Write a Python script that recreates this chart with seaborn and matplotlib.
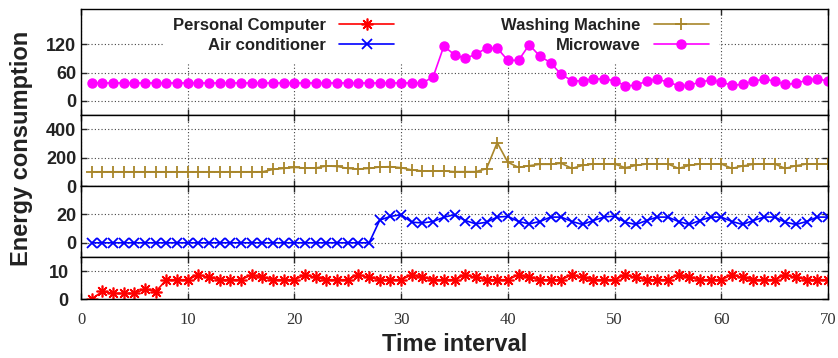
import matplotlib
matplotlib.use("Agg")
import matplotlib.pyplot as plt
import seaborn as sns
import pandas as pd

# Data
time_interval = list(range(1, 71))

microwave = [38, 38, 38, 38, 38, 38, 38, 38, 38, 38,
             38, 38, 38, 38, 38, 38, 38, 38, 38, 38,
             38, 38, 38, 38, 38, 38, 38, 38, 38, 38,
             38, 38, 51, 116, 98, 90, 99, 112, 112, 86,
             86, 119, 95, 81, 56, 43, 42, 47, 46, 43,
             32, 33, 42, 46, 40, 32, 33, 40, 44, 40,
             33, 35, 42, 46, 42, 35, 37, 44, 47, 42]

washing_machine = [100, 100, 100, 100, 100, 100, 100, 100, 100, 100,
                   100, 100, 100, 100, 100, 100, 100, 117, 124, 131,
                   127, 127, 141, 138, 124, 120, 124, 134, 136, 129,
                   113, 106, 106, 106, 101, 101, 101, 122, 305, 167,
                   131, 143, 153, 153, 160, 124, 145, 155, 155, 155,
                   129, 145, 155, 155, 155, 124, 145, 155, 155, 155,
                   124, 141, 153, 155, 155, 124, 143, 155, 155, 155]

air_conditioner = [0, 0, 0, 0, 0, 0, 0, 0, 0, 0,
                   0, 0, 0, 0, 0, 0, 0, 0, 0, 0,
                   0, 0, 0, 0, 0, 0, 0, 16, 18.6, 19.8,
                   14.5, 14, 15, 18, 19.8, 15.7, 13.3, 14.5, 18.1, 18.6,
                   15, 13.3, 15, 18.1, 18.1, 15, 12.9, 15.7, 18.1, 18.8,
                   14.5, 12.9, 15.7, 18.1, 18.1, 15, 12.9, 15.7, 18.1, 18.1,
                   15, 12.9, 15.7, 18.1, 18.1, 14.5, 12.9, 15, 18.1, 18.1]

personal_computer = [0, 2.7, 2, 2, 2, 3.6, 2.6, 6.9, 6.9, 6.9,
                     8.6, 7.7, 6.9, 6.9, 6.9, 8.6, 7.7, 6.9, 6.9, 6.9,
                     8.6, 7.7, 6.9, 6.9, 6.9, 8.6, 7.7, 6.9, 6.9, 6.9,
                     8.6, 7.7, 6.9, 6.9, 6.9, 8.6, 7.7, 6.9, 6.9, 6.9,
                     8.6, 7.7, 6.9, 6.9, 6.9, 8.6, 7.7, 6.9, 6.9, 6.9,
                     8.6, 7.7, 6.9, 6.9, 6.9, 8.6, 7.7, 6.9, 6.9, 6.9,
                     8.6, 7.7, 6.9, 6.9, 6.9, 8.6, 7.7, 6.9, 6.9, 6.9]

x_ticks = [0, 10, 20, 30, 40, 50, 60, 70]
panel_yticks = [[0, 60, 120], [0, 200, 400], [0, 20], [0, 10]]
panel_ylims = [(-30, 195), (0, 500), (-10, 40), (0, 15)]

df = pd.DataFrame({
    'time': time_interval,
    'Microwave': microwave,
    'Washing Machine': washing_machine,
    'Air conditioner': air_conditioner,
    'Personal Computer': personal_computer,
})

sns.set_style("white")
plt.rcParams['font.family'] = ['Liberation Sans', 'DejaVu Sans']

fig, axes = plt.subplots(4, 1, sharex=True, figsize=(8.38, 3.58), dpi=100,
                         gridspec_kw={'height_ratios': [106, 71, 71, 42], 'hspace': 0})
fig.subplots_adjust(left=81 / 838, right=828 / 838, top=1 - 9 / 358, bottom=1 - 299 / 358)

# panel, column, colour, marker, marker size, marker edge width
series = [
    (0, 'Microwave', '#ff00ff', 'o', 6.5, 1.0),
    (1, 'Washing Machine', '#a8862a', '+', 9, 1.3),
    (2, 'Air conditioner', '#0000ff', 'x', 7.5, 1.3),
    (3, 'Personal Computer', '#ff0000', (8, 2, 0), 8.5, 1.2),
]

handles = {}
for idx, col, color, marker, ms, mew in series:
    ax = axes[idx]
    sns.lineplot(data=df, x='time', y=col, ax=ax, color=color, marker=marker,
                 markersize=ms, markeredgewidth=mew, markeredgecolor=color,
                 markerfacecolor=color, linewidth=1.2, label=col, legend=False)
    handles[col] = ax.get_lines()[-1]

for ax, yt, yl in zip(axes, panel_yticks, panel_ylims):
    ax.set_xlim(0, 70)
    ax.set_ylim(*yl)
    ax.set_yticks(yt)
    ax.set_ylabel('')
    ax.set_xlabel('')
    ax.grid(True, linestyle=(0, (1, 2)), color='#444444', linewidth=0.8)
    ax.tick_params(direction='in', length=4, width=1, top=True, right=True,
                   left=True, bottom=True, labelbottom=False)
    for lab in ax.get_yticklabels():
        lab.set_fontweight('bold')
        lab.set_fontsize(13)
        lab.set_color('#222222')
    for s in ax.spines.values():
        s.set_color('black')
        s.set_linewidth(1.0)

bottom = axes[-1]
bottom.set_xticks(x_ticks)
bottom.tick_params(labelbottom=True, pad=9)
for lab in bottom.get_xticklabels():
    lab.set_family('Liberation Serif')
    lab.set_fontsize(12)
    lab.set_color('#333333')
bottom.set_xlabel('Time interval', fontsize=17, fontweight='bold', labelpad=4, color='#222222')

fig.text(0.026, 0.585, 'Energy consumption', rotation=90, ha='center', va='center',
         fontsize=17, fontweight='bold', color='#222222')

order = ['Personal Computer', 'Air conditioner', 'Washing Machine', 'Microwave']
leg = axes[0].legend([handles[k] for k in order], order, ncol=2, markerfirst=False,
                     loc='upper right', bbox_to_anchor=((718 - 81) / 747, 1.0),
                     handlelength=3.3, handletextpad=0.8, columnspacing=6.4,
                     labelspacing=0.3, borderpad=0.55, borderaxespad=0,
                     frameon=True, fancybox=False, edgecolor='white', framealpha=1,
                     prop={'family': 'Liberation Sans', 'weight': 'bold', 'size': 12})
leg.set_zorder(1)  # data drawn over the legend box, grid hidden beneath it
for t in leg.get_texts():
    t.set_color('#222222')

plt.savefig('out.png', dpi=100)
